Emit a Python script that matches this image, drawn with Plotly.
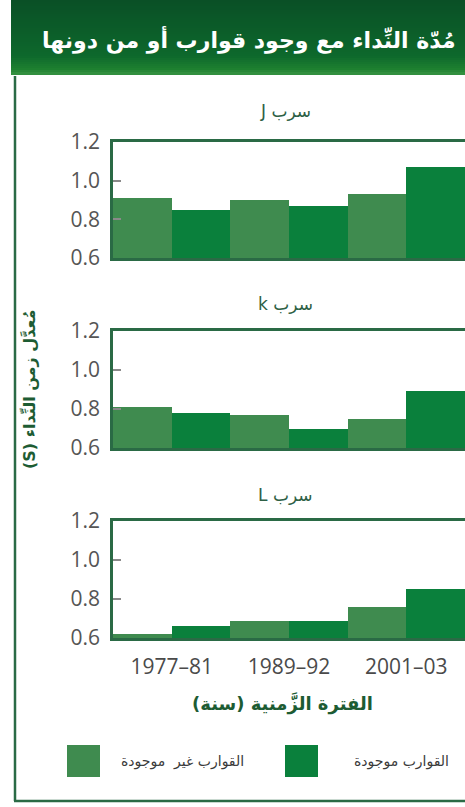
import plotly.graph_objects as go

# data (mean call duration, seconds)
periods = ["1977–81", "1989–92", "2001–03"]
flock_titles = ["سرب J", "سرب k", "سرب L"]

no_boats_j = [0.91, 0.90, 0.93]
boats_j = [0.85, 0.87, 1.07]
no_boats_k = [0.81, 0.77, 0.75]
boats_k = [0.78, 0.70, 0.89]
no_boats_l = [0.62, 0.685, 0.76]
boats_l = [0.66, 0.685, 0.85]

y_ticks = [0.6, 0.8, 1.0, 1.2]
y_tick_text = ["0.6", "0.8", "1.0", "1.2"]

label_no_boats = "القوارب غير  موجودة"
label_boats = "القوارب موجودة"
header_text = "مُدّة النِّداء مع وجود قوارب أو من دونها"
y_title = "مُعدَّل زمن النِّداء (S)"
x_title = "الفترة الزَّمنية (سنة)"

W, H = 465, 807
LIGHT = "#3f8b4f"
DARK = "#0a803c"
FRAME = "#2a6a45"
TITLE_GREEN = "#1d5c33"
RLE, PDF = "\u202b", "\u202c"


def px_x(x):
    return x / W


def px_y(y):
    return 1 - y / H


def rtl(s):
    # right-to-left embedding so mixed Arabic/Latin text keeps the original order
    return RLE + s + PDF


# plot boxes in pixels: (top, bottom)
panels = [(142, 258), (331, 448), (521, 638)]
series = [(no_boats_j, boats_j), (no_boats_k, boats_k), (no_boats_l, boats_l)]
title_y = [111, 304, 495]

fig = go.Figure()
layout = dict(
    width=W,
    height=H,
    autosize=False,
    margin=dict(l=0, r=0, t=0, b=0),
    paper_bgcolor="white",
    plot_bgcolor="white",
    barmode="group",
    bargap=0,
    bargroupgap=0,
    showlegend=False,
    font=dict(family="Open Sans, DejaVu Sans", color="#4a4a4a"),
)

for i, ((top, bottom), (nb, b)) in enumerate(zip(panels, series)):
    n = "" if i == 0 else str(i + 1)
    fig.add_trace(
        go.Bar(x=periods, y=nb, marker=dict(color=LIGHT, line=dict(width=0)),
               name=label_no_boats, xaxis="x" + n, yaxis="y" + n, offsetgroup="a")
    )
    fig.add_trace(
        go.Bar(x=periods, y=b, marker=dict(color=DARK, line=dict(width=0)),
               name=label_boats, xaxis="x" + n, yaxis="y" + n, offsetgroup="b")
    )
    layout["xaxis" + n] = dict(
        domain=[px_x(113), 1],
        range=[-0.5, 2.5],
        anchor="y" + n,
        showline=True,
        mirror=True,
        linecolor=FRAME,
        linewidth=2.5,
        showgrid=False,
        zeroline=False,
        ticks="",
        ticklabelstandoff=8,
        showticklabels=(i == 2),
        tickfont=dict(size=21, color="#4a4a4a"),
        automargin=False,
        fixedrange=True,
    )
    layout["yaxis" + n] = dict(
        domain=[px_y(bottom), px_y(top)],
        range=[0.6, 1.2],
        anchor="x" + n,
        tickvals=y_ticks,
        ticktext=y_tick_text,
        ticks="inside",
        ticklen=8,
        tickwidth=1.5,
        tickcolor="#8a8a8a",
        ticklabelstandoff=6,
        showline=True,
        mirror=False,
        linecolor=FRAME,
        linewidth=2.5,
        showgrid=False,
        zeroline=False,
        tickfont=dict(size=21, color="#555555"),
        automargin=False,
        fixedrange=True,
    )

shapes = []
# header band, built as thin overlapping strips to fake the vertical gradient
stops = [(0, (10, 80, 38)), (55, (13, 104, 44)), (68, (30, 128, 48)), (74, (60, 150, 70))]
for y in range(0, 74, 2):
    for (y0, c0), (y1, c1) in zip(stops, stops[1:]):
        if y0 <= y <= y1:
            t = (y - y0) / (y1 - y0)
            c = tuple(round(a + (bb - a) * t) for a, bb in zip(c0, c1))
            break
    shapes.append(dict(type="rect", xref="paper", yref="paper",
                       x0=px_x(11), x1=1, y0=px_y(min(y + 3, 75)), y1=px_y(y),
                       fillcolor="rgb(%d,%d,%d)" % c, line=dict(width=0), layer="below"))

# outer frame (left and bottom edges)
shapes.append(dict(type="line", xref="paper", yref="paper", x0=px_x(15), x1=px_x(15),
                   y0=px_y(76), y1=px_y(801), line=dict(color=FRAME, width=2.5)))
shapes.append(dict(type="line", xref="paper", yref="paper", x0=px_x(14), x1=1,
                   y0=px_y(801), y1=px_y(801), line=dict(color=FRAME, width=2.5)))

# legend swatches
shapes.append(dict(type="rect", xref="paper", yref="paper", x0=px_x(67), x1=px_x(100),
                   y0=px_y(777), y1=px_y(745), fillcolor=LIGHT, line=dict(width=0)))
shapes.append(dict(type="rect", xref="paper", yref="paper", x0=px_x(285), x1=px_x(318),
                   y0=px_y(777), y1=px_y(745), fillcolor=DARK, line=dict(width=0)))

annotations = [
    dict(text="<b>%s</b>" % header_text, x=px_x(458), y=px_y(40), xanchor="right",
         yanchor="middle", font=dict(family="DejaVu Sans", size=22, color="white")),
    dict(text="<b>%s</b>" % rtl(y_title), x=px_x(29), y=px_y(390), textangle=-90,
         xanchor="center", yanchor="middle",
         font=dict(family="DejaVu Sans", size=16, color=TITLE_GREEN)),
    dict(text="<b>%s</b>" % rtl(x_title), x=px_x(282), y=px_y(703), xanchor="center",
         yanchor="middle", font=dict(family="DejaVu Sans", size=18, color=TITLE_GREEN)),
    dict(text=label_no_boats, x=px_x(246), y=px_y(761), xanchor="right", yanchor="middle",
         font=dict(family="DejaVu Sans", size=14, color="#3a3a3a")),
    dict(text=label_boats, x=px_x(451), y=px_y(761), xanchor="right", yanchor="middle",
         font=dict(family="DejaVu Sans", size=14, color="#3a3a3a")),
]
for t, ty in zip(flock_titles, title_y):
    annotations.append(
        dict(text=rtl(t), x=px_x(285), y=px_y(ty), xanchor="center", yanchor="middle",
             font=dict(family="DejaVu Sans", size=17, color="#2e5f45"))
    )
for a in annotations:
    a.update(xref="paper", yref="paper", showarrow=False)

layout["shapes"] = shapes
layout["annotations"] = annotations
fig.update_layout(layout)

fig.write_html(
    "out.html",
    config={"displayModeBar": False},
    post_script="document.body.style.margin='0';document.body.style.overflow='hidden';",
)
